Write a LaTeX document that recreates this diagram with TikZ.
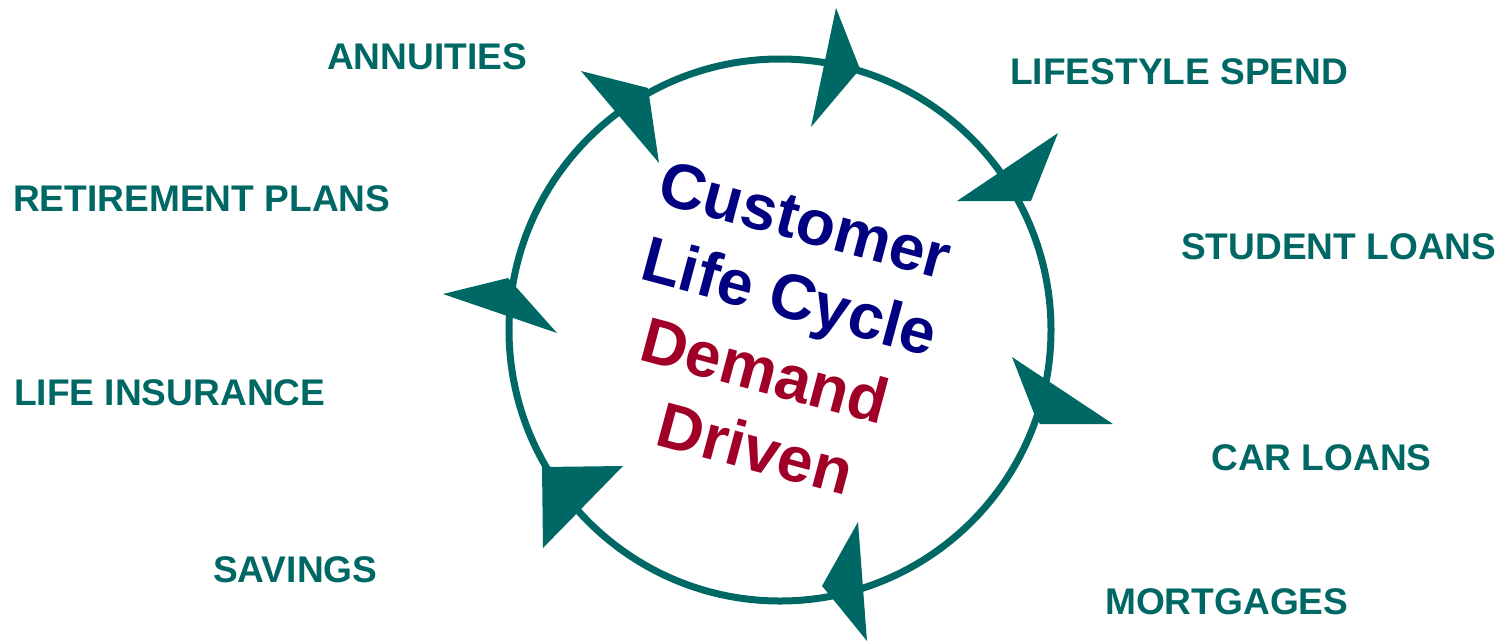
\documentclass[tikz,border=0pt]{standalone}
\usepackage{fontspec}
\setmainfont{Liberation Sans}
\usepackage{tikz}
\definecolor{cycleteal}{RGB}{0,104,100}
\definecolor{cyclenavy}{RGB}{0,0,128}
\definecolor{cyclered}{RGB}{160,0,40}

\begin{document}
\begin{tikzpicture}[x=1pt,y=-1pt]
\tikzset{every node/.style={inner sep=0pt}}
\tikzset{stage/.style={anchor=base west, text=cycleteal, font=\fontsize{37.1}{40}\selectfont\bfseries}}
\tikzset{ring/.style={draw=cycleteal, line width=7pt}}
\tikzset{head/.style={fill=cycleteal}}
\tikzset{theme/.style={rotate=-15, align=center, font=\fontsize{64}{78}\selectfont\bfseries}}
\useasboundingbox (0,0) rectangle (1504,641);
\node[circle, ring, minimum size=542pt] (cycle) at (780,330) {};
\fill[head] (836,8) -- (860,69) -- (811,127) -- cycle;
\fill[head] (1058,133) -- (1031,201) -- (957,201) -- cycle;
\fill[head] (1012,357) -- (1113,424) -- (1040,424) -- (1035,416) -- cycle;
\fill[head] (858,522) -- (867,641) -- (832,598) -- (822,586) -- cycle;
\fill[head] (623,466) -- (543,548) -- (542,467) -- cycle;
\fill[head] (557,333) -- (443,294) -- (508,278) -- cycle;
\fill[head] (581,71) -- (648,88) -- (659,163) -- cycle;
\node[theme] (lifecycle) at (775,333) {\textcolor{cyclenavy}{Customer}\hspace{10pt}\\ \hspace{10pt}\textcolor{cyclenavy}{Life Cycle}\\ \textcolor{cyclered}{Demand}\\ \hspace{22pt}\textcolor{cyclered}{Driven}};
\node[stage] (annuities) at (327,69) {ANNUITIES};
\node[stage] (lifestyle) at (1010,84) {LIFESTYLE SPEND};
\node[stage] (retirement) at (13,211) {RETIREMENT PLANS};
\node[stage] (student) at (1181,259) {STUDENT LOANS};
\node[stage] (insurance) at (14,405) {LIFE INSURANCE};
\node[stage] (carloans) at (1211,470) {CAR LOANS};
\node[stage] (savings) at (213,582) {SAVINGS};
\node[stage] (mortgages) at (1105,614) {MORTGAGES};
\end{tikzpicture}
\end{document}
